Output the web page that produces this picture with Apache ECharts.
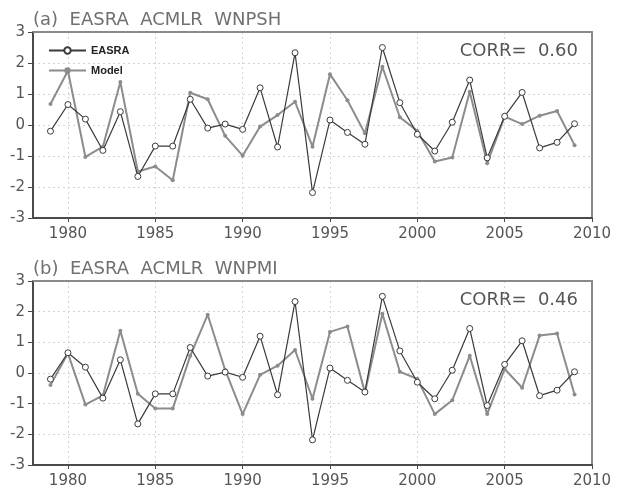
<!DOCTYPE html>
<html>
<head>
<meta charset="UTF-8">
<title>EASRA ACMLR</title>
<style>
body{margin:0;background:#fff;}
#picContainer{width:617px;height:489px;}
</style>
</head>
<body>
<div id='picContainer'></div>
<script src="https://cdn.jsdelivr.net/npm/echarts@6/dist/echarts.min.js"></script>
<script>
// years shown on the x axis (edges 1978 and 2010)
var axisYears = [1978,1979,1980,1981,1982,1983,1984,1985,1986,1987,1988,1989,1990,1991,1992,1993,1994,
    1995,1996,1997,1998,1999,2000,2001,2002,2003,2004,2005,2006,2007,2008,2009,2010];
var years = [1979,1980,1981,1982,1983,1984,1985,1986,1987,1988,1989,1990,1991,1992,1993,1994,
    1995,1996,1997,1998,1999,2000,2001,2002,2003,2004,2005,2006,2007,2008,2009];
var easra = [-0.2,0.66,0.19,-0.82,0.43,-1.66,-0.68,-0.68,0.83,-0.1,0.03,-0.14,1.2,-0.71,2.33,-2.18,
    0.16,-0.24,-0.62,2.5,0.72,-0.3,-0.84,0.09,1.45,-1.06,0.28,1.05,-0.74,-0.56,0.04];
var modelA = [0.68,1.75,-1.03,-0.7,1.39,-1.5,-1.34,-1.78,1.04,0.83,-0.35,-0.99,-0.05,0.32,0.75,-0.7,
    1.64,0.8,-0.27,1.88,0.25,-0.19,-1.18,-1.05,1.07,-1.23,0.27,0.03,0.3,0.45,-0.65];
var modelB = [-0.39,0.64,-1.03,-0.73,1.38,-0.68,-1.16,-1.16,0.56,1.9,0.1,-1.34,-0.06,0.24,0.75,-0.84,
    1.34,1.52,-0.64,1.93,0.04,-0.19,-1.34,-0.89,0.56,-1.34,0.13,-0.48,1.22,1.29,-0.7];
var panelTitles = ['(a)  EASRA  ACMLR  WNPSH', '(b)  EASRA  ACMLR  WNPMI'];
var corrValues = ['0.60', '0.46'];

main();
function main(){
    var myChart = echarts.init(document.getElementById('picContainer'));
    var cats = axisYears.map(String);
    function pairs(vals){
        return years.map(function(y, i){ return [String(y), vals[i]]; });
    }
    function every5(index, value){ return Number(value) % 5 === 0; }
    function grid5(index, value){ return Number(value) % 5 === 0 && Number(value) !== 2010; }
    var tops = [32, 281];
    var grids = [], xAxes = [], yAxes = [], series = [], graphics = [];
    var labelFont = {color: '#555', fontSize: 15, fontFamily: 'DejaVu Sans'};
    for (var p = 0; p < 2; p++) {
        grids.push({left: 33, right: 25, top: tops[p], height: 186});
        // bottom / left axes
        xAxes.push({
            type: 'category', gridIndex: p, data: cats, boundaryGap: false,
            axisLine: {onZero: false, lineStyle: {color: '#4a4a4a', width: 2}},
            axisTick: {interval: every5, length: 4, lineStyle: {color: '#4a4a4a'}},
            axisLabel: Object.assign({interval: every5, margin: 9}, labelFont),
            splitLine: {show: true, interval: grid5, lineStyle: {color: '#d4d4d4', type: [2, 3], width: 1}}
        });
        yAxes.push({
            type: 'value', gridIndex: p, min: -3, max: 3, interval: 1,
            axisLine: {show: true, onZero: false, lineStyle: {color: '#4a4a4a', width: 2}},
            axisTick: {show: true, length: 5, lineStyle: {color: '#4a4a4a'}},
            axisLabel: Object.assign({margin: 8}, labelFont),
            splitLine: {show: true, lineStyle: {color: '#d4d4d4', type: [2, 3], width: 1}}
        });
        // top / right frame
        xAxes.push({
            type: 'category', gridIndex: p, data: cats, boundaryGap: false, position: 'top',
            axisLine: {onZero: false, lineStyle: {color: '#8a8a8a', width: 2}},
            axisTick: {show: false}, axisLabel: {show: false}, splitLine: {show: false}
        });
        yAxes.push({
            type: 'value', gridIndex: p, min: -3, max: 3, interval: 1, position: 'right',
            axisLine: {show: true, onZero: false, lineStyle: {color: '#8a8a8a', width: 2}},
            axisTick: {show: false}, axisLabel: {show: false}, splitLine: {show: false}
        });
        series.push({
            name: 'EASRA', type: 'line', xAxisIndex: p * 2, yAxisIndex: p * 2, data: pairs(easra),
            symbol: 'circle', symbolSize: 6, showAllSymbol: true, z: 3,
            lineStyle: {color: '#3a3a3a', width: 1.2},
            itemStyle: {color: '#fff', borderColor: '#3a3a3a', borderWidth: 1}
        });
        series.push({
            name: 'Model', type: 'line', xAxisIndex: p * 2, yAxisIndex: p * 2, data: pairs(p === 0 ? modelA : modelB),
            symbol: 'circle', symbolSize: 4, showAllSymbol: true, z: 2,
            lineStyle: {color: '#8c8c8c', width: 2},
            itemStyle: {color: '#8c8c8c'}
        });
        graphics.push({type: 'text', left: 33, top: tops[p] - 21,
            style: {text: panelTitles[p], fill: '#707070', font: '18px "DejaVu Sans"'}});
        graphics.push({type: 'text', right: 39, top: tops[p] + 10,
            style: {text: 'CORR=  ' + corrValues[p], fill: '#555', font: '18px "DejaVu Sans"'}});
    }
    var option = {
        animation: false,
        grid: grids,
        xAxis: xAxes,
        yAxis: yAxes,
        legend: {
            left: 43, top: 40, orient: 'vertical', itemWidth: 37, itemHeight: 8, itemGap: 9,
            data: ['EASRA', 'Model'],
            textStyle: {color: '#222', fontSize: 11, fontWeight: 'bold', fontFamily: 'Liberation Sans'}
        },
        graphic: graphics,
        series: series
    };
    myChart.setOption(option);
}
</script>
</body>
</html>
